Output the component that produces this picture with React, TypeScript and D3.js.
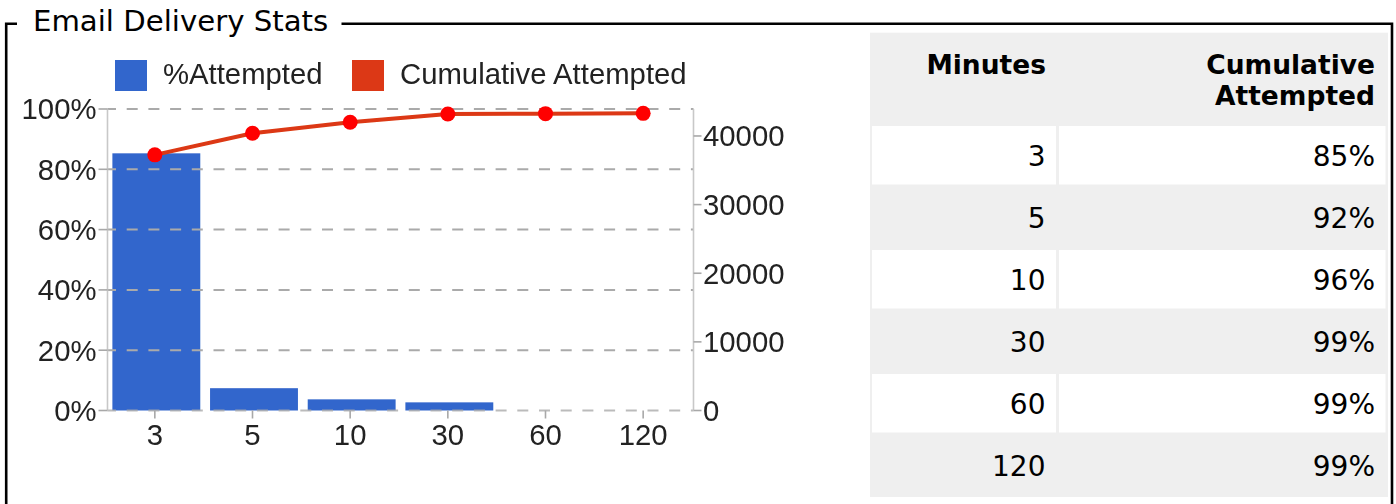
import React from 'react';
import * as d3 from 'd3';

const minutes = ['3', '5', '10', '30', '60', '120'];
const pctAttempted = [85.3, 7.4, 3.7, 2.7, 0, 0];
const cumulativeAttempted = [37250, 40400, 42000, 43200, 43250, 43300];
const cumulativePct = [85, 92, 96, 99, 99, 99];
const leftTicks = [0, 20, 40, 60, 80, 100];
const rightTicks = [0, 10000, 20000, 30000, 40000];
const seriesNames = ['%Attempted', 'Cumulative Attempted'];

const W = 1396;
const H = 504;
const chartFont = '"Liberation Sans", Arial, sans-serif';
const pageFont = '"DejaVu Sans", sans-serif';

const App = () => {
  const plot = { left: 107.5, right: 693.5, top: 109, bottom: 410.5 };

  const x = d3.scaleBand()
    .domain(minutes)
    .range([plot.left, plot.right])
    .paddingInner(0.1)
    .paddingOuter(0.05);

  const yLeft = d3.scaleLinear().domain([0, 100]).range([plot.bottom, plot.top]);
  const yRight = d3.scaleLinear().domain([0, 43930]).range([plot.bottom, plot.top]);

  const cx = (m) => x(m) + x.bandwidth() / 2 - 1.5;

  const line = d3.line()
    .x((d, i) => cx(minutes[i]))
    .y(d => yRight(d));

  // table layout
  const tbl = { left: 870, right: 1388, top: 32.7, bottom: 497 };
  const col1 = [872, 1056];
  const col2 = [1059, 1385.5];
  const rowY = d3.scaleBand()
    .domain(minutes)
    .range([126, 494.5])
    .paddingInner(3.5 / 62);

  const legendColors = ['#3366cc', '#dc3912'];
  const legendX = [115, 352];

  return (
    <svg width={W} height={H} style={{ position: 'absolute', left: 0, top: 0 }}>
      <defs>
        <filter id="soft" x="-5%" y="-5%" width="110%" height="110%">
          <feGaussianBlur stdDeviation="0.45" />
        </filter>
      </defs>
      <rect width={W} height={H} fill="#fff" />

      {/* fieldset border */}
      <path
        d={`M6.2,${H} L6.2,23.7 L17,23.7 M341.5,23.7 L1392,23.7 L1392,${H}`}
        fill="none" stroke="#000" strokeWidth={2.6} />
      <text x={33} y={31} fontFamily={pageFont} fontSize={29.2} fill="#000">Email Delivery Stats</text>

      <g filter="url(#soft)">
        {/* legend */}
        {seriesNames.map((name, i) => (
          <g key={name}>
            <rect x={legendX[i]} y={60} width={32} height={31} fill={legendColors[i]} />
            <text x={legendX[i] + 48} y={83.5} fontFamily={chartFont} fontSize={29.3} fill="#222">{name}</text>
          </g>
        ))}

        {/* bars */}
        {pctAttempted.map((v, i) => (
          v > 0 ? (
            <rect key={minutes[i]} x={x(minutes[i])} y={yLeft(v)}
              width={x.bandwidth()} height={plot.bottom - yLeft(v)} fill="#3366cc" />
          ) : null
        ))}

        {/* gridlines */}
        {leftTicks.map(t => (
          <line key={t} x1={plot.left} x2={plot.right} y1={yLeft(t)} y2={yLeft(t)}
            stroke="#aaaaaa" strokeWidth={2} strokeDasharray="11 10.7" strokeDashoffset={2.5}
            opacity={t === 0 ? 0.8 : 1} />
        ))}

        {/* axes */}
        <line x1={plot.left} x2={plot.left} y1={plot.top} y2={plot.bottom} stroke="#c8c8c8" strokeWidth={1.6} />
        <line x1={plot.right} x2={plot.right} y1={plot.top} y2={plot.bottom} stroke="#c8c8c8" strokeWidth={1.6} />
        {leftTicks.map(t => (
          <g key={t}>
            <line x1={plot.left - 9} x2={plot.left} y1={yLeft(t)} y2={yLeft(t)} stroke="#a8a8a8" strokeWidth={1.6} />
            <text x={96.5} y={yLeft(t) + 10.4} textAnchor="end" fontFamily={chartFont} fontSize={29.3} fill="#222">{t}%</text>
          </g>
        ))}
        {rightTicks.map(t => (
          <g key={t}>
            <line x1={plot.right} x2={plot.right + 8} y1={yRight(t)} y2={yRight(t)} stroke="#a8a8a8" strokeWidth={1.6} />
            <text x={703} y={yRight(t) + 10.4} fontFamily={chartFont} fontSize={29.3} fill="#222">{t}</text>
          </g>
        ))}
        {minutes.map(m => (
          <g key={m}>
            <line x1={cx(m)} x2={cx(m)} y1={plot.bottom} y2={plot.bottom + 8} stroke="#a8a8a8" strokeWidth={1.6} />
            <text x={cx(m)} y={445} textAnchor="middle" fontFamily={chartFont} fontSize={29.3} fill="#222">{m}</text>
          </g>
        ))}

        {/* cumulative line */}
        <path d={line(cumulativeAttempted)} fill="none" stroke="#dc3912" strokeWidth={4} strokeLinejoin="round" />
        {cumulativeAttempted.map((v, i) => (
          <circle key={minutes[i]} cx={cx(minutes[i])} cy={yRight(v)} r={7.5} fill="#ff0000" />
        ))}
      </g>

      {/* table */}
      <rect x={tbl.left} y={tbl.top} width={tbl.right - tbl.left} height={tbl.bottom - tbl.top} fill="#efefef" />
      <text x={1046} y={74} textAnchor="end" fontFamily={pageFont} fontWeight="bold" fontSize={26.5} fill="#000">Minutes</text>
      <text x={1375} y={74} textAnchor="end" fontFamily={pageFont} fontWeight="bold" fontSize={26.5} fill="#000">Cumulative</text>
      <text x={1375} y={105} textAnchor="end" fontFamily={pageFont} fontWeight="bold" fontSize={26.5} fill="#000">Attempted</text>
      {minutes.map((m, i) => {
        const y0 = rowY(m);
        const h = rowY.bandwidth();
        return (
          <g key={m}>
            {i % 2 === 0 && (
              <>
                <rect x={col1[0]} y={y0} width={col1[1] - col1[0]} height={h} fill="#fff" />
                <rect x={col2[0]} y={y0} width={col2[1] - col2[0]} height={h} fill="#fff" />
              </>
            )}
            <text x={1045.5} y={y0 + h / 2 + 10.5} textAnchor="end" fontFamily={pageFont} fontSize={28} fill="#000">{m}</text>
            <text x={1375} y={y0 + h / 2 + 10.5} textAnchor="end" fontFamily={pageFont} fontSize={28} fill="#000">{cumulativePct[i]}%</text>
          </g>
        );
      })}
    </svg>
  );
};

export default App;
